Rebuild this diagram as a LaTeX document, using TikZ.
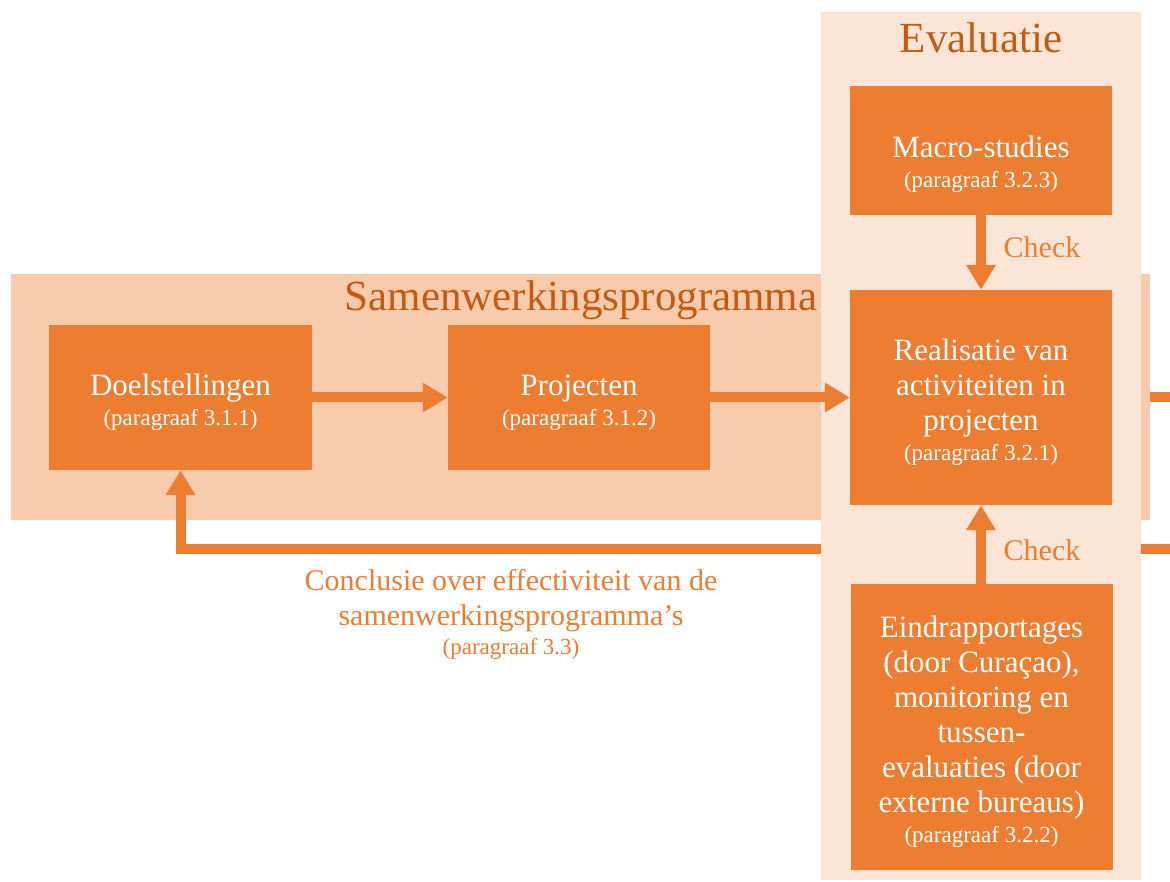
\documentclass[tikz,border=0pt]{standalone}
\usepackage{fontspec}
\setmainfont{Liberation Serif}
\usetikzlibrary{arrows.meta}
\definecolor{org}{HTML}{ED7D31}
\definecolor{bandc}{HTML}{F8CBAD}
\definecolor{panelc}{HTML}{FBE5D6}
\definecolor{titc}{HTML}{C55A11}
\pgfdeclarelayer{lzero}
\pgfdeclarelayer{lone}
\pgfdeclarelayer{ltwo}
\pgfdeclarelayer{lthree}
\pgfsetlayers{lzero,lone,ltwo,lthree,main}
\newcommand{\mainsz}{\fontsize{31}{35}\selectfont}
\newcommand{\smsz}{\fontsize{23}{30}\selectfont}
\newcommand{\tstrut}[1]{\rule{0pt}{#1}}
\tikzset{
  box/.style={fill=org, draw=none, inner sep=0pt, text=white, align=center, font=\mainsz},
  arr/.style={org, line width=10pt, -{Triangle[width=28pt,length=25pt]}},
  plain/.style={org, line width=10pt},
  lbl/.style={text=org, font=\fontsize{30}{35}\selectfont, align=center},
  ttl/.style={text=titc, font=\fontsize{43}{45}\selectfont}
}
\begin{document}
\begin{tikzpicture}[x=1pt,y=1pt]
\useasboundingbox (0,0) rectangle (1170,881);
% boxes
\node[box, minimum width=263pt, minimum height=145pt] (doel) at (180.5,483.5)
  {\tstrut{30pt}Doelstellingen\\[-5pt]{\smsz (paragraaf 3.1.1)}};
\node[box, minimum width=262pt, minimum height=145pt] (proj) at (579,483.5)
  {\tstrut{30pt}Projecten\\[-5pt]{\smsz (paragraaf 3.1.2)}};
\node[box, minimum width=262pt, minimum height=129pt] (macro) at (981,730.5)
  {\tstrut{48pt}Macro-studies\\[-5pt]{\smsz (paragraaf 3.2.3)}};
\node[box, minimum width=262pt, minimum height=215pt] (real) at (981,483.5)
  {\tstrut{31pt}Realisatie van\\activiteiten in\\projecten\\[-5pt]{\smsz (paragraaf 3.2.1)}};
\node[box, minimum width=262pt, minimum height=286pt] (eind) at (981.5,154)
  {\tstrut{31pt}Eindrapportages\\(door Curaçao),\\monitoring en\\tussen-\\evaluaties (door\\externe bureaus)\\[-5pt]{\smsz (paragraaf 3.2.2)}};
% titles and labels
\node[ttl] (samtitle) at (581,581) {Samenwerkingsprogramma};
\node[ttl] (evtitle) at (981,843) {Evaluatie};
\node[lbl] (chk1) at (1042,634) {Check};
\node[lbl] (chk2) at (1042,331) {Check};
\node[lbl] (concl) at (511,267) {Conclusie over effectiviteit van de\\samenwerkingsprogramma’s\\[-6pt]{\smsz (paragraaf 3.3)}};
\coordinate (outR) at (1170,483.5);
\coordinate (fbR) at (1170,331.5);
\coordinate (fbL) at (180.5,331.5);
% layers
\begin{pgfonlayer}{lzero}
  \draw[plain] (real.east) -- (outR);
\end{pgfonlayer}
\begin{pgfonlayer}{lone}
  \fill[bandc] (11,361) rectangle (1150,607);
\end{pgfonlayer}
\begin{pgfonlayer}{ltwo}
  \draw[arr] (fbR) -- (fbL) -- (doel.south);
\end{pgfonlayer}
\begin{pgfonlayer}{lthree}
  \fill[panelc] (821,1) rectangle (1141,869);
\end{pgfonlayer}
% arrows
\draw[arr] (doel.east) -- (proj.west);
\draw[arr] (proj.east) -- (real.west);
\draw[arr] (macro.south) -- (real.north);
\draw[arr] (real.south |- eind.north) -- (real.south);
\end{tikzpicture}
\end{document}
